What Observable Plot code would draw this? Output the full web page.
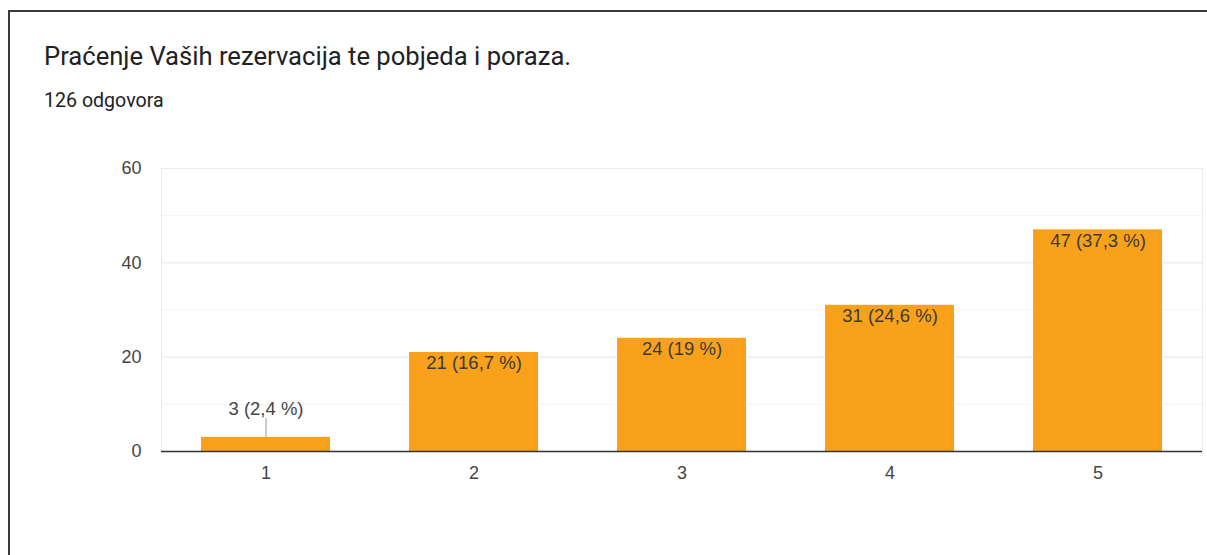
<!DOCTYPE html>
<html><head><meta charset="utf-8">
<script src="https://cdn.jsdelivr.net/npm/d3@7"></script>
<script src="https://cdn.jsdelivr.net/npm/@observablehq/plot@0.6"></script>
<style>
body{margin:0;background:#fff;}
#wrap{position:relative;width:1207px;height:555px;overflow:hidden;font-family:Roboto,"Liberation Sans",sans-serif;}
#frame{position:absolute;left:8px;top:10px;width:1300px;height:700px;border-left:2px solid #3a3a3a;border-top:2px solid #3a3a3a;box-sizing:border-box;}
#title{position:absolute;left:44px;top:43.5px;font-size:25.6px;line-height:25.6px;color:#202124;white-space:nowrap;}
#sub{position:absolute;left:44px;top:90.5px;font-size:19.6px;line-height:19.6px;color:#202124;white-space:nowrap;}
#chart{position:absolute;left:0;top:140px;}
</style>
</head><body>
<div id="wrap">
  <div id="frame"></div>
  <div id="title">Praćenje Vaših rezervacija te pobjeda i poraza.</div>
  <div id="sub">126 odgovora</div>
  <div id="chart"></div>
</div>
<script>
const categories = ["1", "2", "3", "4", "5"];
const counts = [3, 21, 24, 31, 47];
const total = 126;
const yTicks = [0, 20, 40, 60];
const minorTicks = [10, 30, 50];

function pctLabel(c) {
  const p = Math.round(c / total * 1000) / 10;
  const s = (p % 1 === 0 ? String(p) : p.toFixed(1)).replace(".", ",");
  return `${c} (${s} %)`;
}
const data = categories.map((cat, i) => ({cat, count: counts[i], label: pctLabel(counts[i])}));
const inside = data.filter(d => d.count >= 5);
const outside = data.filter(d => d.count < 5);

const chart = Plot.plot({
  width: 1207,
  height: 360,
  marginTop: 28,
  marginBottom: 49,
  marginLeft: 161,
  marginRight: 5,
  style: {fontSize: "18px", fontFamily: "'Liberation Sans', Arial, sans-serif", color: "#444", background: "transparent"},
  x: {domain: categories, paddingInner: 0.38, paddingOuter: 0.19, label: null},
  y: {domain: [0, 60], label: null},
  marks: [
    Plot.gridY(minorTicks, {stroke: "#f3f3f3", strokeOpacity: 1}),
    Plot.gridY(yTicks, {stroke: "#e6e6e6", strokeOpacity: 1}),
    Plot.frame({stroke: "#ececec"}),
    Plot.barY(data, {x: "cat", y: "count", fill: "#f9a11b"}),
    Plot.ruleY([0], {stroke: "#333", strokeWidth: 1.5}),
    Plot.text(inside, {x: "cat", y: "count", text: "label", dy: 11, lineAnchor: "middle", fill: "#3a3a3a", fontSize: 18.5}),
    Plot.ruleX(outside, {x: "cat", y1: "count", y2: d => d.count + 4, stroke: "#999"}),
    Plot.text(outside, {x: "cat", y: "count", text: "label", dy: -28, lineAnchor: "middle", fill: "#444", fontSize: 18.5}),
    Plot.axisY({ticks: yTicks, tickSize: 0, tickPadding: 20}),
    Plot.axisX({tickSize: 0, tickPadding: 15})
  ]
});
document.getElementById("chart").appendChild(chart);
</script>
</body></html>
